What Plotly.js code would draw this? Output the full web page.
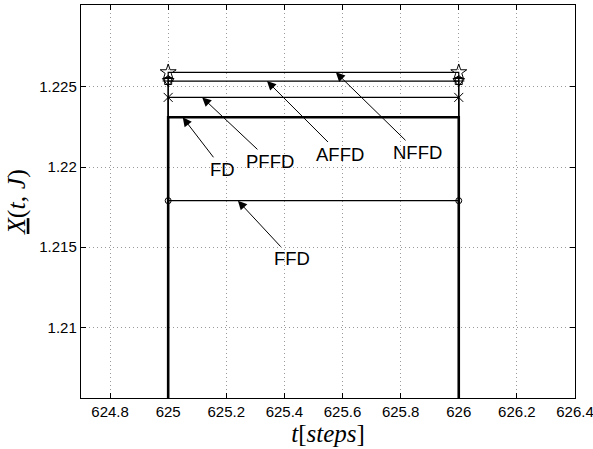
<!DOCTYPE html>
<html>
<head>
<meta charset="utf-8">
<script src="https://cdn.plot.ly/plotly-3.0.1.min.js"></script>
<style>html,body{margin:0;padding:0;background:#fff;}</style>
</head>
<body>
<div id="chart" style="width:593px;height:449px;"></div>
<script>
// Time steps where the level is held
const steps = [625, 626];
// Level of each scheme over the step (the level outside the step lies below the view)
const levelBelow = 1.19;
const FD   = [1.2231, 1.2231];
const PFFD = [1.22434, 1.22434];
const AFFD = [1.22536, 1.22536];
const NFFD = [1.2259, 1.2259];
const FFD  = [1.2179, 1.2179];
// Where each label's arrow points along the step
const labelNames = ['FD', 'PFFD', 'AFFD', 'NFFD', 'FFD'];
const arrowAt    = [625.05, 625.117, 625.34, 625.577, 625.24];

const xTicks = [624.8, 625, 625.2, 625.4, 625.6, 625.8, 626, 626.2, 626.4];
const yTicks = [1.21, 1.215, 1.22, 1.225];

function stairLine(vals, width) {
  return {
    x: [steps[0], steps[0], steps[1], steps[1]],
    y: [levelBelow, vals[0], vals[1], levelBelow],
    mode: 'lines', type: 'scatter',
    line: {color: '#000', width: width},
    hoverinfo: 'skip', showlegend: false
  };
}
function markerSet(vals, symbol, size) {
  return {
    x: steps, y: vals, mode: 'markers', type: 'scatter',
    marker: {symbol: symbol, size: size, color: '#000', line: {color: '#000', width: 1}},
    hoverinfo: 'skip', showlegend: false
  };
}

const traces = [
  stairLine(FFD, 1.2), markerSet(FFD, 'circle-open', 6),
  stairLine(PFFD, 1.2), markerSet(PFFD, 'x-thin-open', 9),
  stairLine(AFFD, 1.2), markerSet(AFFD, 'triangle-down-open', 10), markerSet(AFFD, 'square-open', 7),
  markerSet(AFFD, 'cross-thin-open', 8),
  stairLine(NFFD, 1.2), markerSet(NFFD, 'star-open', 12),
  stairLine(FD, 2.6)
];

const levels = [FD, PFFD, AFFD, NFFD, FFD];
const offsets = [[40, 52], [68, 64], [73, 73], [82, 80], [54, 58]];
const annotations = labelNames.map((name, i) => ({
  x: arrowAt[i], y: levels[i][0], xref: 'x', yref: 'y',
  text: name, showarrow: true, arrowhead: 2, arrowsize: 1.8, arrowwidth: 1,
  arrowcolor: '#000', ax: offsets[i][0], ay: offsets[i][1], standoff: 0,
  font: {family: 'Liberation Sans, Arial, sans-serif', size: 18.5, color: '#000'}
}));

const axisBase = {
  showline: true, linecolor: '#000', linewidth: 1.2, mirror: 'ticks',
  ticks: 'inside', ticklen: 5, tickcolor: '#000', tickwidth: 1,
  showgrid: true, gridcolor: '#9a9a9a', griddash: '1px,3px', gridwidth: 1,
  zeroline: false, ticklabeloverflow: 'allow',
  tickfont: {family: 'Liberation Sans, Arial, sans-serif', size: 15, color: '#000'}
};

const layout = {
  width: 593, height: 449,
  margin: {l: 81, r: 18, t: 5, b: 51},
  paper_bgcolor: '#fff', plot_bgcolor: '#fff',
  xaxis: Object.assign({}, axisBase, {
    range: [624.7, 626.4], tickvals: xTicks, ticktext: xTicks.map(String),
    title: {text: '<i>t</i>[<i>steps</i>]', standoff: 3,
            font: {family: 'Liberation Serif, serif', size: 25, color: '#000'}}
  }),
  yaxis: Object.assign({}, axisBase, {
    range: [1.2056, 1.2301], tickvals: yTicks, ticktext: yTicks.map(String),
    title: {text: '<u><i>X</i></u>(<i>t</i>, <i>J</i>)', standoff: 6,
            font: {family: 'Liberation Serif, serif', size: 26, color: '#000'}}
  }),
  annotations: annotations
};

Plotly.newPlot('chart', traces, layout, {displayModeBar: false, staticPlot: true});
</script>
</body>
</html>
